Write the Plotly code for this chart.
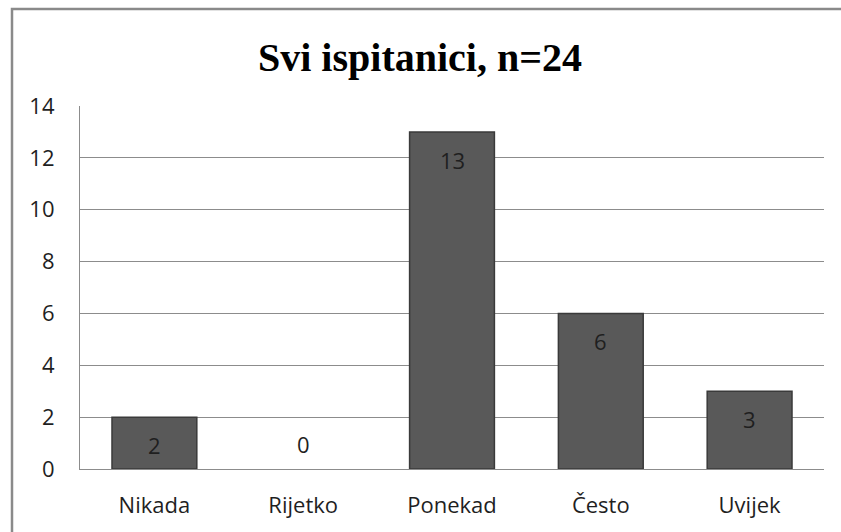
import plotly.graph_objects as go

categories = ["Nikada", "Rijetko", "Ponekad", "Često", "Uvijek"]
counts = [2, 0, 13, 6, 3]
y_ticks = [0, 2, 4, 6, 8, 10, 12, 14]

W, H = 841, 532
L, R, T, B = 80, 17, 106, 63
pw, ph = W - L - R, H - T - B

TXT = "#1f1f1f"
LABEL_FONT = dict(family="Open Sans", size=22, color=TXT)

fig = go.Figure()
fig.add_trace(go.Bar(
    x=categories,
    y=counts,
    width=0.57,
    marker=dict(
        color="#595959",
        line=dict(color="#3a3a3a", width=[1.5 if v > 0 else 0 for v in counts]),
    ),
    hoverinfo="skip",
))

# value labels just under the top of each bar (above the axis for zero)
for cat, v in zip(categories, counts):
    fig.add_annotation(
        x=cat, y=v, text=str(v), showarrow=False,
        yanchor="middle", yshift=-28 if v > 0 else 25,
        font=LABEL_FONT,
    )

# outer chart frame
fig.add_shape(
    type="rect", xref="paper", yref="paper",
    x0=(12 - L) / pw, x1=1.2, y0=-0.5, y1=(H - B - 9) / ph,
    line=dict(color="#8a8a8a", width=2.5), layer="below",
)

fig.update_layout(
    width=W, height=H,
    margin=dict(l=L, r=R, t=T, b=B),
    paper_bgcolor="white", plot_bgcolor="white",
    showlegend=False,
    title=dict(
        text="<b>Svi ispitanici, n=24</b>",
        x=420 / W, xanchor="center",
        y=1 - 57 / H, yanchor="middle", yref="container",
        font=dict(family="Liberation Serif", size=40, color="black"),
    ),
    font=LABEL_FONT,
)
fig.update_xaxes(
    showline=True, linecolor="#8c8c8c", linewidth=1.2,
    showgrid=False, ticks="", ticklabelstandoff=16,
    tickfont=LABEL_FONT,
)
fig.update_yaxes(
    range=[0, 14], tickvals=y_ticks,
    showline=True, linecolor="#8c8c8c", linewidth=1.2,
    showgrid=True, gridcolor="#8c8c8c", gridwidth=1.2,
    zeroline=False, ticks="", ticklabelstandoff=20,
    tickfont=LABEL_FONT,
)

fig.write_html("out.html")
